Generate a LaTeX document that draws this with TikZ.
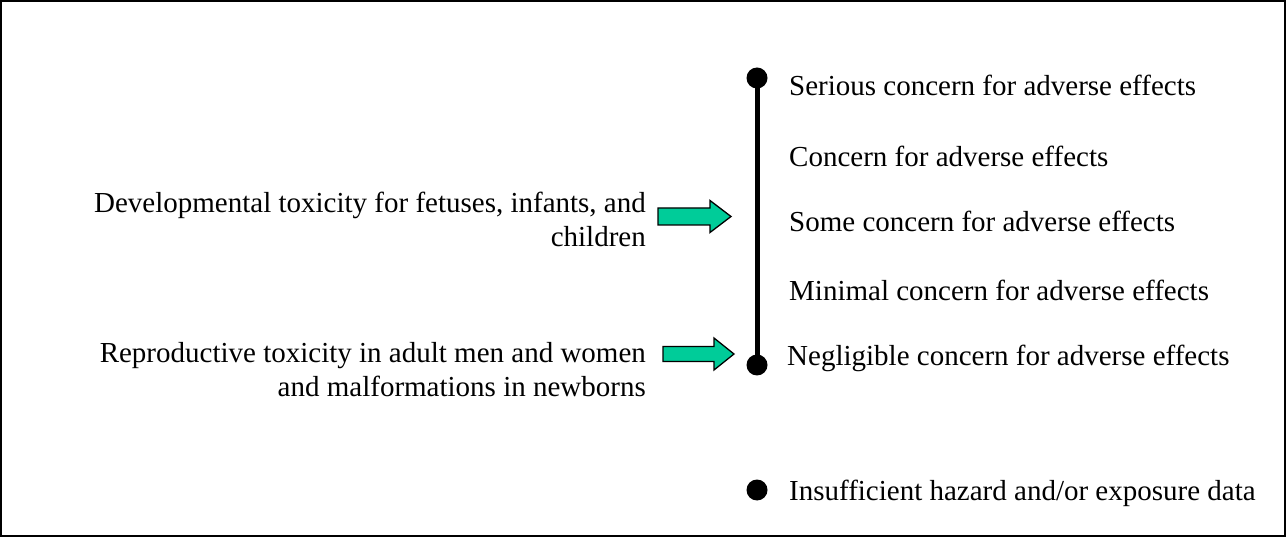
\documentclass[tikz,border=0pt]{standalone}
\usepackage{fontspec}
\setmainfont{Liberation Serif}
\definecolor{arrowgreen}{RGB}{0,204,153}
\tikzset{
  lbl/.style={inner sep=0pt, font=\fontsize{29}{34}\selectfont},
  dot/.style={circle, fill=black, inner sep=0pt, minimum size=21pt},
  fatarrow/.style={draw=black, line width=1.3pt, fill=arrowgreen, line join=miter},
}
\begin{document}
\begin{tikzpicture}[x=1pt,y=-1pt]
\useasboundingbox (0,0) rectangle (1286,537);
\draw[line width=2pt] (1,1) rectangle (1285,536);
% scale
\node[dot] (top) at (757,78) {};
\node[dot] (bot) at (757,365) {};
\draw[line width=5pt] (top.center) -- (bot.center);
\node[dot] (ins) at (757,490) {};
% right labels
\node[lbl, anchor=base west] (l1) at (789,96) {Serious concern for adverse effects};
\node[lbl, anchor=base west] (l2) at (789,167) {Concern for adverse effects};
\node[lbl, anchor=base west] (l3) at (789,232) {Some concern for adverse effects};
\node[lbl, anchor=base west] (l4) at (789,301) {Minimal concern for adverse effects};
\node[lbl, anchor=base west] (l5) at (787,366) {Negligible concern for adverse effects};
\node[lbl, anchor=base west] (l6) at (789,500) {Insufficient hazard and/or exposure data};
% left labels
\node[lbl, anchor=base east, align=right] (d1) at (646,247) {Developmental toxicity for fetuses, infants, and\\children};
\node[lbl, anchor=base east, align=right] (r1) at (646,397) {Reproductive toxicity in adult men and women\\and malformations in newborns};
% arrows
\coordinate (a1) at (658,216.5);
\coordinate (a2) at (663,354);
\draw[fatarrow] (a1) ++(0,-8.5) -- ++(52,0) -- ++(0,-7.5) -- ++(21,16) -- ++(-21,16) -- ++(0,-7.5) -- ++(-52,0) -- cycle;
\draw[fatarrow] (a2) ++(0,-7.5) -- ++(51,0) -- ++(0,-8.5) -- ++(20,16) -- ++(-20,16) -- ++(0,-8.5) -- ++(-51,0) -- cycle;
\end{tikzpicture}
\end{document}
